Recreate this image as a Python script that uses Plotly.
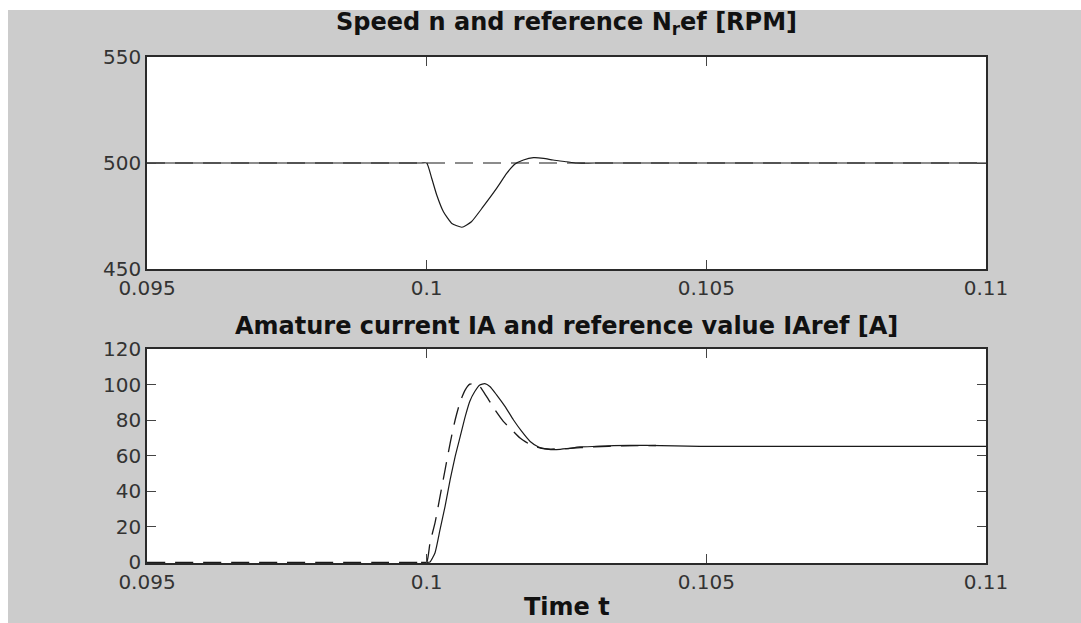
import plotly.graph_objects as go

# ---------------- data ----------------
# Speed n [RPM] (solid) and reference N_ref (dashed)
t_speed = [0.095, 0.0999, 0.1000, 0.10009, 0.10018, 0.10030, 0.10045, 0.10063, 0.10080, 0.10101,
           0.10125, 0.10143, 0.10158, 0.10173, 0.10191, 0.10209, 0.10226, 0.10250, 0.10268,
           0.10300, 0.11]
n_speed = [500, 500, 500, 492.8, 484.9, 477.0, 471.5, 469.7, 472.3, 479.4,
           488.0, 495.1, 499.5, 501.4, 502.5, 502.2, 501.4, 500.6, 500,
           500, 500]
t_nref = [0.095, 0.11]
n_ref = [500, 500]

# Armature current IA [A] (solid) and reference IAref (dashed)
t_ia = [0.0999, 0.1000, 0.10006, 0.10015, 0.10024, 0.10033, 0.10042, 0.10051, 0.10060, 0.10069,
        0.10077, 0.10086, 0.10095, 0.10104, 0.10113, 0.10125, 0.10140, 0.10155, 0.10170,
        0.10185, 0.10200, 0.10215, 0.10232, 0.10250, 0.10274, 0.10304, 0.10334, 0.10393,
        0.10489, 0.11]
ia = [0, 0, 0.2, 5.4, 18.5, 31.6, 46.5, 59.6, 70.8, 82.1,
      90.5, 96.1, 99.8, 100.5, 98.9, 94.2, 87.7, 80.2, 73.6,
      68.0, 64.9, 63.7, 63.4, 63.9, 64.9, 65.2, 65.6, 65.8,
      65.2, 65.2]
t_iaref = [0.095, 0.0999, 0.1000, 0.10006, 0.10015, 0.10024, 0.10033, 0.10042, 0.10051, 0.10060,
           0.10069, 0.10077, 0.10086, 0.10095, 0.10107, 0.10122, 0.10137, 0.10152, 0.10167,
           0.10185, 0.10203, 0.10221, 0.10250, 0.10300, 0.10350, 0.10410]
iaref = [0, 0, 0, 11.0, 22.3, 37.2, 52.2, 67.1, 80.2, 90.5,
         97.0, 100.2, 100.5, 98.9, 93.3, 85.8, 79.3, 74.6, 69.9,
         66.2, 64.3, 63.7, 64.0, 65.0, 65.5, 65.7]

x_ticks = [0.095, 0.1, 0.105, 0.11]
x_ticktext = ["0.095", "0.1", "0.105", "0.11"]
y1_ticks = [450, 500, 550]
y2_ticks = [0, 20, 40, 60, 80, 100, 120]

title1 = "Speed n and reference N<sub>r</sub>ef [RPM]"
title2 = "Amature current IA and reference value IAref [A]"
xlabel = "Time t"

# ---------------- figure ----------------
W, H = 1081, 623
L, R, T, B = 147, 95, 57, 60
plot_h = H - T - B  # 506


def fy(py):
    return (H - B - py) / plot_h


def fx(px):
    return (px - L) / (W - L - R)


LINE = "#1a1a1a"
fig = go.Figure()
fig.add_trace(go.Scatter(x=t_nref, y=n_ref, mode="lines", xaxis="x", yaxis="y",
                         line=dict(color=LINE, width=1.2, dash="18px,10px")))
fig.add_trace(go.Scatter(x=t_speed, y=n_speed, mode="lines", xaxis="x", yaxis="y",
                         line=dict(color=LINE, width=1.2, shape="spline", smoothing=0.5)))
fig.add_trace(go.Scatter(x=t_iaref, y=iaref, mode="lines", xaxis="x2", yaxis="y2",
                         line=dict(color=LINE, width=1.3, dash="18px,10px", shape="spline", smoothing=0.5)))
fig.add_trace(go.Scatter(x=t_ia, y=ia, mode="lines", xaxis="x2", yaxis="y2",
                         line=dict(color=LINE, width=1.2, shape="spline", smoothing=0.5)))

axis_common = dict(showgrid=False, zeroline=False, showline=True, linecolor="#2a2a2a",
                   linewidth=1.5, mirror="ticks", ticks="inside", ticklen=9, tickwidth=1,
                   tickcolor="#444444",
                   tickfont=dict(family="DejaVu Sans", size=20, color="#333333"))

top_dom = [fy(269), 1.0]
bot_dom = [0.0, fy(349)]

title_font = dict(family="DejaVu Sans", size=24, color="#111111", weight="bold")

fig.update_layout(
    width=W, height=H,
    margin=dict(l=L, r=R, t=T, b=B, pad=0),
    paper_bgcolor="#cccccc", plot_bgcolor="white",
    showlegend=False,
    xaxis=dict(domain=[0, 1], anchor="y", range=[0.095, 0.11], tickvals=x_ticks,
               ticktext=x_ticktext, **axis_common),
    yaxis=dict(domain=top_dom, anchor="x", range=[450, 550], tickvals=y1_ticks, **axis_common),
    xaxis2=dict(domain=[0, 1], anchor="y2", range=[0.095, 0.11], tickvals=x_ticks,
                ticktext=x_ticktext, **axis_common),
    yaxis2=dict(domain=bot_dom, anchor="x2", range=[-0.4, 120], tickvals=y2_ticks, **axis_common),
    annotations=[
        dict(text=title1, x=0.5, y=fy(24), xref="paper", yref="paper", showarrow=False,
             xanchor="center", yanchor="middle", font=title_font),
        dict(text=title2, x=0.5, y=fy(326), xref="paper", yref="paper", showarrow=False,
             xanchor="center", yanchor="middle", font=title_font),
        dict(text=xlabel, x=0.5, y=fy(607), xref="paper", yref="paper", showarrow=False,
             xanchor="center", yanchor="middle", font=title_font),
    ],
    shapes=[
        dict(type="rect", xref="paper", yref="paper", x0=fx(0), x1=fx(8), y0=fy(H + 5), y1=fy(-5),
             fillcolor="white", line=dict(width=0), layer="below"),
        dict(type="rect", xref="paper", yref="paper", x0=fx(-5), x1=fx(W + 5), y0=fy(10), y1=fy(-5),
             fillcolor="white", line=dict(width=0), layer="below"),
    ],
)

fig.write_html("out.html")
